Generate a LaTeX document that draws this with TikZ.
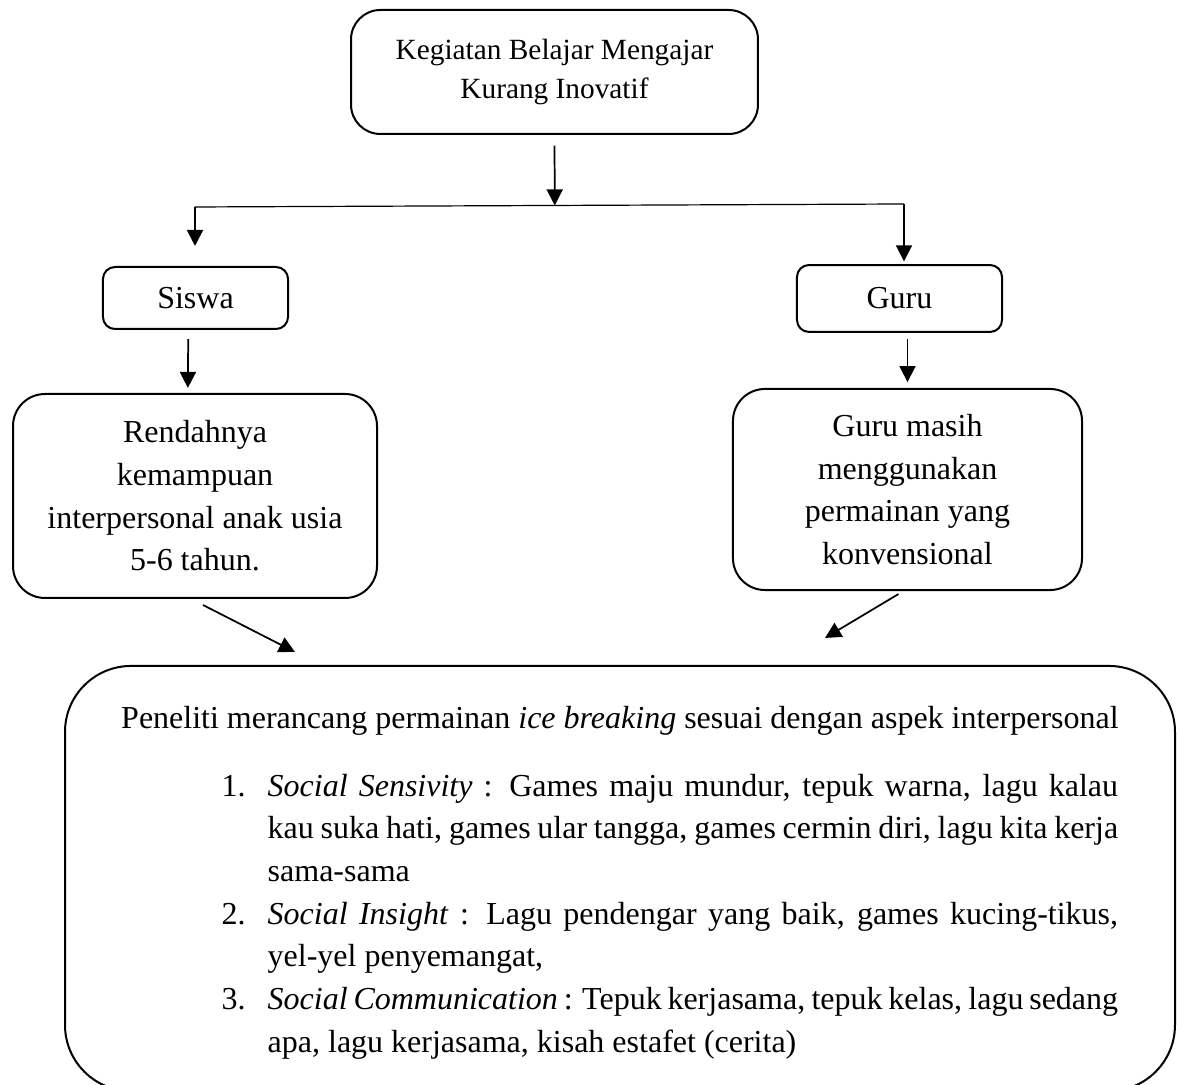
\documentclass[tikz,border=0pt]{standalone}
\usepackage{fontspec}
\setmainfont{Liberation Serif}
\usepackage{enumitem}
\usetikzlibrary{arrows.meta, positioning, calc}

\begin{document}
\begin{tikzpicture}[
    x=0.375pt, y=-0.375pt,
    box/.style={rectangle, draw, line width=0.75pt, inner sep=0pt, align=center, font=\fontsize{12}{16}\selectfont},
    smallbox/.style={box, rounded corners=4.5pt},
    bigbox/.style={box, rounded corners=12pt},
    arrow/.style={-{Triangle[length=6pt, width=6pt]}, line width=0.65pt}
]
\useasboundingbox (0,0) rectangle (1177,1085);

% Top box
\node[box, rounded corners=11pt, minimum width=152.6pt, minimum height=46.5pt, font=\fontsize{11}{14.6}\selectfont] (kbm) at (554.5,72) {Kegiatan Belajar Mengajar\\Kurang Inovatif};

% Branch line
\coordinate (barL) at (195,207);
\coordinate (barR) at (904,204);
\draw[line width=0.45pt] (barL) -- (barR);
\draw[arrow, shorten <=4pt] (kbm.south) -- ($(barL)!(kbm.south)!(barR)$);

% Siswa and Guru
\node[smallbox, minimum width=69.4pt, minimum height=23.25pt] (siswa) at (195.5,298) {Siswa};
\node[smallbox, minimum width=76.9pt, minimum height=25.1pt] (guru) at (899.5,298.5) {Guru};
\draw[arrow, shorten >=7.5pt] (barL) -- (barL |- siswa.north);
\draw[arrow, shorten >=1pt] (barR) -- (barR |- guru.north);

% Second row
\node[bigbox, minimum width=136.5pt, minimum height=76.5pt] (rendah) at (195,496) {Rendahnya\\kemampuan\\interpersonal anak usia\\5-6 tahun.};
\node[bigbox, minimum width=130.9pt, minimum height=75.4pt] (konven) at (907.5,489.5) {Guru masih\\menggunakan\\permainan yang\\konvensional};
\draw[arrow, shorten <=3.4pt, shorten >=1.9pt] ([xshift=-2.7pt]siswa.south) -- ([xshift=-2.7pt]rendah.north);
\draw[arrow, shorten <=2.2pt, shorten >=2.2pt] (konven.north |- guru.south) -- (konven.north);

% Bottom box
\node[box, rounded corners=24.75pt, minimum width=416.25pt, minimum height=159.4pt, align=left] (ide) at (620,878.5) {%
  \begin{minipage}{380pt}
  \vspace*{3pt}
  {\centering Peneliti merancang permainan \textit{ice breaking} sesuai dengan aspek interpersonal\par}
  \begin{enumerate}[leftmargin=57.9pt, rightmargin=3.2pt, labelwidth=17.25pt, labelsep=0pt, align=left, topsep=9.5pt, partopsep=0pt, itemsep=0pt, parsep=0pt]
    \item \textit{Social Sensivity} : Games maju mundur, tepuk warna, lagu kalau\linebreak kau suka hati, games ular tangga, games cermin diri, lagu kita kerja\linebreak sama-sama
    \item \textit{Social Insight} : Lagu pendengar yang baik, games kucing-tikus,\linebreak yel-yel penyemangat,
    \item \textit{Social Communication} : Tepuk kerjasama, tepuk kelas, lagu sedang\linebreak apa, lagu kerjasama, kisah estafet (cerita)
  \end{enumerate}
  \end{minipage}};
\coordinate (tipL) at (295,652);
\coordinate (tipR) at (825,638);
\draw[arrow] ([shift={(8,6)}]rendah.south) -- (tipL);
\draw[arrow] ([shift={(-9,3)}]konven.south) -- (tipR);

\end{tikzpicture}
\end{document}
